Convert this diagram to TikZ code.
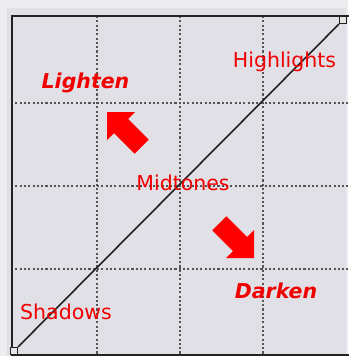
\documentclass[tikz,border=0pt]{standalone}
\usepackage{fontspec}
\setmainfont{DejaVu Sans}
\definecolor{outerbg}{HTML}{EDEDF0}
\definecolor{panelbg}{HTML}{E0E0E6}
\definecolor{gridgray}{HTML}{555555}
\definecolor{framecol}{HTML}{222222}
\definecolor{labelred}{HTML}{F20000}
\definecolor{arrowred}{HTML}{FF0000}
\begin{document}
\begin{tikzpicture}[x=1pt,y=-1pt,
  lbl/.style={text=labelred, font=\fontsize{20.5}{24}\selectfont, anchor=base, inner sep=0pt},
  blbl/.style={lbl, font=\fontsize{20.5}{24}\selectfont\bfseries\itshape},
  gridline/.style={draw=gridgray, line width=2.2pt, dash pattern=on 2.1pt off 2.2pt},
  handle/.style={draw=framecol, fill=white!80!gray, line width=1.2pt, minimum size=7pt, inner sep=0pt, rectangle},
  curveline/.style={draw=framecol, line width=1.6pt},
  bigarrow/.style={fill=arrowred, draw=none}]
\useasboundingbox (0,0) rectangle (348,356);
\fill[outerbg] (0,0) rectangle (348,356);
\fill[panelbg] (7,8) rectangle (346,356);
% grid
\foreach \gx in {97,180,263} {\draw[gridline] (\gx,16) -- (\gx,354);}
\foreach \gy in {103,186,269} {\draw[gridline] (11,\gy) -- (348,\gy);}
% frame
\draw[line width=2pt, framecol] (352,16) -- (11.5,16) -- (11.5,354.5) -- (352,354.5);
% curve
\node[handle] (lo) at (14,351) {};
\node[handle] (hi) at (343,20) {};
\draw[curveline] (lo) -- (hi);
% labels
\node[lbl] (highlights) at (284.5,67) {Highlights};
\node[lbl] (shadows) at (66,319) {Shadows};
\node[lbl] (midtones) at (183,190) {Midtones};
\node[blbl] (lighten) at (85.5,88) {Lighten};
\node[blbl] (darken) at (276,298) {Darken};
% arrows
\fill[bigarrow] (107,112) -- (135,112) -- (128.1,118.9) -- (148.7,139.6) -- (134.6,153.7) -- (113.9,133.1) -- (107,140) -- cycle;
\fill[bigarrow] (254,258) -- (254,230) -- (247.1,236.9) -- (226.4,216.3) -- (212.3,230.4) -- (232.9,251.1) -- (226,258) -- cycle;
\end{tikzpicture}
\end{document}
